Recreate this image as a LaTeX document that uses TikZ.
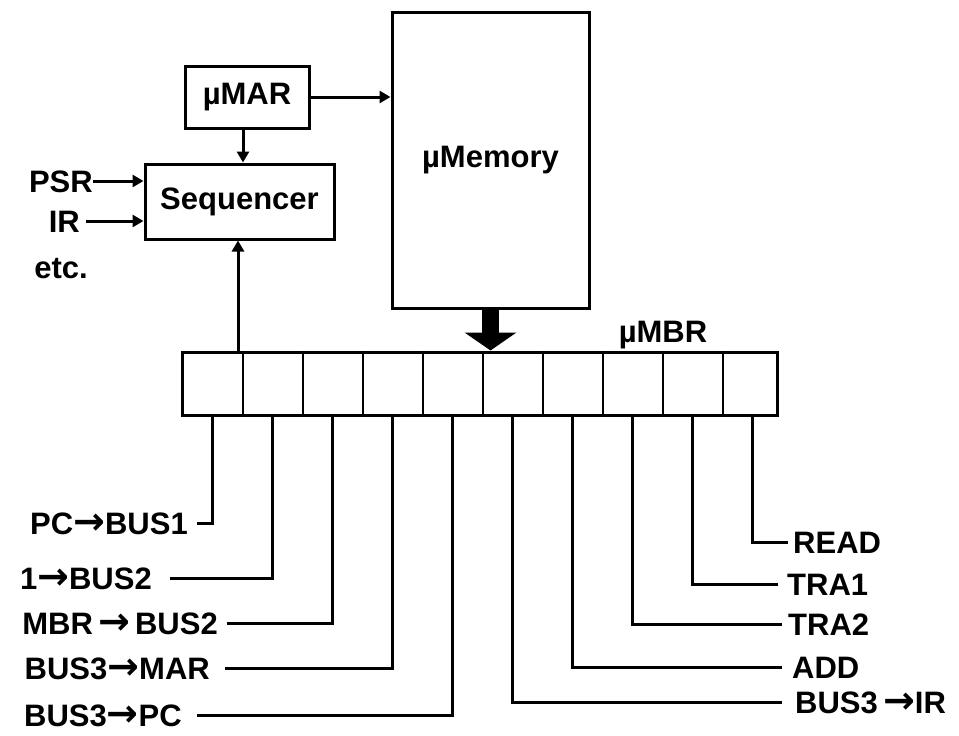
\documentclass[tikz,border=0pt]{standalone}
\usepackage{fontspec}
\setmainfont{Liberation Sans}
\newfontfamily\arrowfont{DejaVu Sans}
\newcommand{\toarr}{{\arrowfont\fontsize{38}{38}\selectfont →}}
\usetikzlibrary{arrows.meta}

\begin{document}
\begin{tikzpicture}[x=1pt, y=-1pt,
    font=\fontsize{31}{34}\selectfont\bfseries,
    box/.style={draw, line width=3pt, inner sep=0pt},
    sig/.style={inner sep=0pt, text height=22pt, text depth=0pt},
    arr/.style={-{Triangle[length=11pt, width=12pt]}, line width=3pt},
    wire/.style={line width=3pt},
]
\useasboundingbox (0,0) rectangle (959,736);

% Control store boxes
\node[box, minimum width=124pt, minimum height=62pt] (umar) at (247,97) {µMAR};
\node[box, minimum width=189pt, minimum height=75pt] (useq) at (239.5,201.5) {Sequencer};
\node[box, minimum width=197pt, minimum height=296pt] (umem) at (490.5,160) {µMemory};
\node[box, minimum width=595pt, minimum height=63pt] (umbr) at (479.5,383.5) {};
\node[sig] (mbrlbl) at (663,331) {µMBR};

% Register fields
\foreach \x in {243,303,...,723}
    \draw[line width=2pt] (\x,0 |- umbr.north) -- (\x,0 |- umbr.south);

% Sequencer inputs
\node[sig, anchor=east] (psr) at (93,181) {PSR};
\node[sig, anchor=east, inner xsep=6pt] (ir) at (86,221) {IR};
\node[sig] (etc) at (61,267) {etc.};
\draw[arr] (psr.east) -- (psr.east -| useq.west);
\draw[arr] (ir.east) -- (ir.east -| useq.west);

% Arrows between boxes
\draw[arr] ([xshift=-4pt]umar.south) -- ([xshift=-4pt]umar.south |- useq.north);
\draw[arr] (umar.east) -- (umar.east -| umem.west);
\draw[arr] ([xshift=-1.5pt]useq.south |- umbr.north) -- ([xshift=-1.5pt]useq.south);
\draw[line width=17pt, -{Triangle[length=18pt, width=51pt]}]
    (umem.south) -- (umem.south |- umbr.north);

% Control lines, left side
\foreach \x/\y/\xs/\gap/\txt [count=\i] in {212/523/197/9/PC\toarr BUS1,
        272/578/170/18/1\toarr BUS2, 332/623/227/9/MBR\,\toarr\,BUS2,
        392/668/225/15/BUS3\toarr MAR, 452/715/197/15/BUS3\toarr PC}{
    \node[sig, anchor=east, inner xsep=\gap pt] (lft\i) at (\xs,\y) {\txt};
    \draw[wire] (lft\i.east) -| (\x,0 |- umbr.south);
}

% Control lines, right side
\foreach \x/\y/\xs/\gap/\txt [count=\i] in {752/542/788/5/READ,
        692/584/778/9/TRA1, 632/624/782/6/TRA2,
        572/667/782/10/ADD, 512/702/782/13/BUS3\,\toarr IR}{
    \node[sig, anchor=west, inner xsep=\gap pt] (rgt\i) at (\xs,\y) {\txt};
    \draw[wire] (rgt\i.west) -| (\x,0 |- umbr.south);
}

\end{tikzpicture}
\end{document}
